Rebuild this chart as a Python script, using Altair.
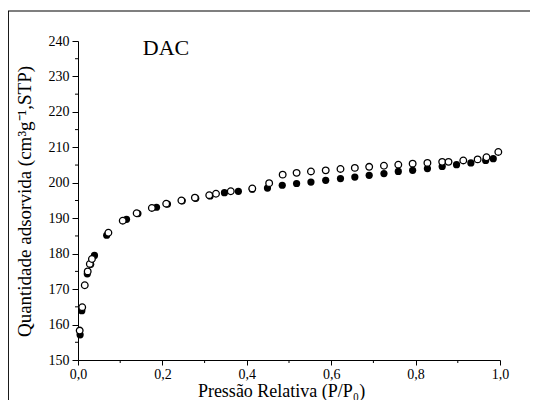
import altair as alt
import pandas as pd

ads_x = [0.005, 0.009, 0.022, 0.030, 0.039, 0.068, 0.115, 0.142, 0.186, 0.212, 0.247, 0.279,
         0.313, 0.347, 0.380, 0.413, 0.449, 0.484, 0.518, 0.552, 0.587, 0.622, 0.656, 0.690,
         0.725, 0.759, 0.793, 0.828, 0.863, 0.897, 0.931, 0.966, 0.984]
ads_y = [157.1, 163.9, 174.3, 177.0, 179.5, 185.2, 189.7, 191.3, 193.1, 194.0, 194.9, 195.6,
         196.3, 197.2, 197.6, 198.2, 198.5, 199.3, 199.8, 200.2, 200.7, 201.2, 201.6, 202.1,
         202.6, 203.2, 203.5, 204.0, 204.6, 205.1, 205.6, 206.3, 206.8]

des_x = [0.004, 0.010, 0.016, 0.023, 0.028, 0.033, 0.072, 0.106, 0.139, 0.175, 0.209, 0.245,
         0.277, 0.311, 0.327, 0.362, 0.413, 0.453, 0.485, 0.518, 0.552, 0.587, 0.622, 0.656,
         0.690, 0.725, 0.759, 0.793, 0.828, 0.863, 0.878, 0.913, 0.947, 0.968, 0.996]
des_y = [158.3, 164.9, 171.1, 175.0, 177.1, 178.5, 185.9, 189.3, 191.4, 192.9, 194.1, 195.0,
         195.8, 196.5, 196.9, 197.6, 198.4, 199.9, 202.3, 202.8, 203.2, 203.5, 203.9, 204.2,
         204.5, 204.8, 205.1, 205.4, 205.6, 205.9, 205.9, 206.3, 206.6, 207.2, 208.7]

x_major = [0.0, 0.2, 0.4, 0.6, 0.8, 1.0]
x_minor = [0.1, 0.3, 0.5, 0.7, 0.9]
y_major = [150, 160, 170, 180, 190, 200, 210, 220, 230, 240]
y_minor = [155, 165, 175, 185, 195, 205, 215, 225, 235]

FONT = "Liberation Serif"
W, H = 422, 319

ads = pd.DataFrame({"x": ads_x, "y": ads_y})
des = pd.DataFrame({"x": des_x, "y": des_y})

xs = alt.Scale(domain=[0, 1], nice=False)
ys = alt.Scale(domain=[150, 240], nice=False, zero=False)

x_axis = alt.Axis(values=x_major, labelExpr="replace(format(datum.value, '.1f'), '.', ',')",
                  title="Pressão Relativa (P/P₀)", tickSize=5, titleFontSize=18, labelPadding=2,
                  labelFlush=False, titleX=203, titleY=36)
y_axis = alt.Axis(values=y_major, title="Quantidade adsorvida (cm³g⁻¹,STP)", tickSize=6,
                  titleFontSize=19, titleX=-48, titleY=160, titleAngle=270, labelPadding=3,
                  labelFlush=False)

filled = alt.Chart(ads).mark_point(shape="circle", filled=True, color="black", size=52, opacity=1).encode(
    x=alt.X("x:Q", scale=xs, axis=x_axis),
    y=alt.Y("y:Q", scale=ys, axis=y_axis),
)
opened = alt.Chart(des).mark_point(shape="circle", filled=True, fill="white", stroke="black",
                                   strokeWidth=1.3, size=44, opacity=1).encode(
    x=alt.X("x:Q", scale=xs, axis=x_axis),
    y=alt.Y("y:Q", scale=ys, axis=y_axis),
)

xminor = alt.Chart(pd.DataFrame({"x": x_minor})).mark_rule(color="black", strokeWidth=1).encode(
    x=alt.X("x:Q", scale=xs, axis=x_axis), y=alt.value(H), y2=alt.value(H + 3))
yminor = alt.Chart(pd.DataFrame({"y": y_minor})).mark_rule(color="black", strokeWidth=1).encode(
    y=alt.Y("y:Q", scale=ys, axis=y_axis), x=alt.value(-3), x2=alt.value(0))

frame_top = alt.Chart(pd.DataFrame({"a": [0]})).mark_rule(color="black", strokeWidth=1.2).encode(
    x=alt.value(-70), x2=alt.value(470), y=alt.value(-30))
frame_left = alt.Chart(pd.DataFrame({"a": [0]})).mark_rule(color="black", strokeWidth=1.2).encode(
    x=alt.value(-69.7), y=alt.value(-30), y2=alt.value(370))

label = alt.Chart(pd.DataFrame({"t": ["DAC"]})).mark_text(
    font=FONT, fontSize=22, color="black", align="center", baseline="alphabetic").encode(
    text="t:N", x=alt.value(88), y=alt.value(14))

chart = alt.layer(frame_top, frame_left, xminor, yminor, filled, opened, label).properties(
    width=W, height=H,
    autosize=alt.AutoSizeParams(type="none"),
    padding={"left": 70, "top": 33, "right": 30, "bottom": 40},
).configure_view(stroke=None).configure_axis(
    domainWidth=1, tickWidth=1, grid=False, domainColor="black", tickColor="black",
    labelFont=FONT, labelFontSize=14, labelColor="black", labelOverlap=False, labelFlush=False,
    titleFont=FONT, titleFontWeight="normal", titleColor="black",
    titleBaseline="alphabetic", titleAlign="center",
)

chart.save("out.html", embed_options={"renderer": "svg", "actions": False})
